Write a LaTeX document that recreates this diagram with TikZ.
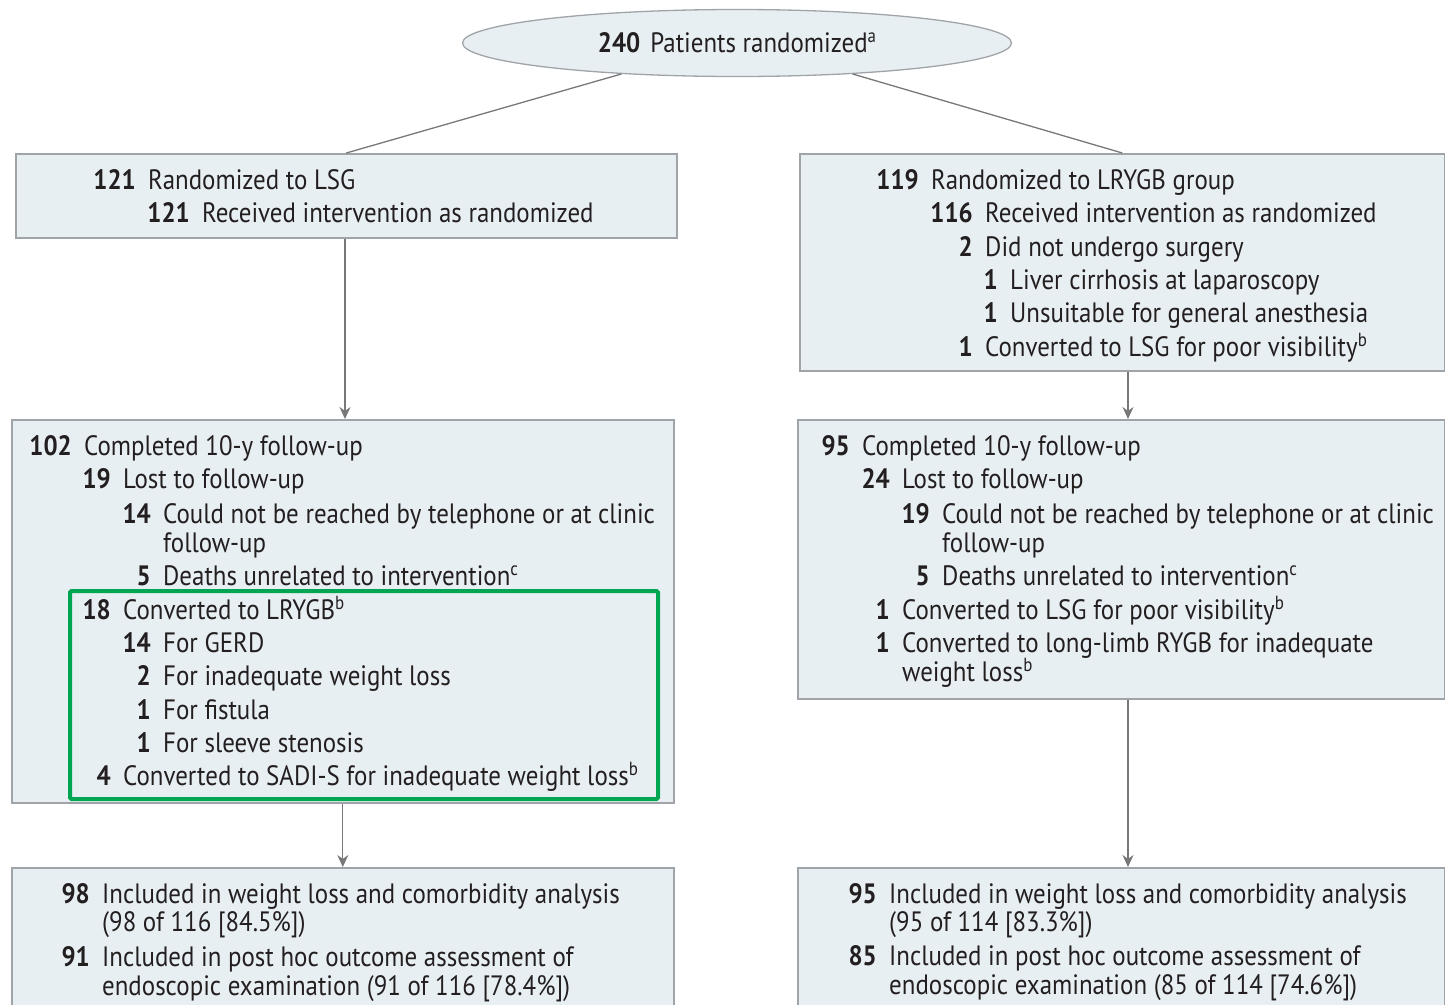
\documentclass[tikz,border=0pt]{standalone}
\usepackage{fontspec}
\setmainfont{PT Sans}[FakeStretch=0.89]
\usetikzlibrary{arrows.meta,shapes.geometric}
\definecolor{boxfill}{RGB}{232,239,243}
\definecolor{boxline}{RGB}{160,164,168}
\definecolor{txtc}{RGB}{35,31,32}
\definecolor{grn}{RGB}{0,166,81}
\definecolor{arrc}{RGB}{120,120,120}
\tikzset{
  box/.style={draw=boxline, line width=1.6pt, fill=boxfill, anchor=north west, inner sep=0pt},
  txtst/.style={inner sep=0pt, text=txtc, text height=19pt, text depth=6pt, font=\fontsize{28}{32}\selectfont},
  numst/.style={txtst, font=\fontsize{28}{32}\selectfont\bfseries},
  conn/.style={draw=arrc, line width=1.3pt},
  arr/.style={conn, -{Stealth[length=12pt,width=11pt]}},
}
\newcommand\sps[1]{\raisebox{0.36em}{\fontsize{19}{19}\selectfont #1}}
\newcommand\ent[5]{%
  \node[numst, anchor=mid east] (#1n) at (#2-12,#3+8) {#4};
  \node[txtst, anchor=mid west] (#1t) at (#2,#3+8) {#5};
}
\newcommand\cont[4]{%
  \node[txtst, anchor=mid west] (#1) at (#2,#3+8) {#4};
}
\begin{document}
\begin{tikzpicture}[x=1pt,y=-1pt]
\useasboundingbox (0,0) rectangle (1445,1004);
% boxes
\node[ellipse, draw=boxline, line width=1.3pt, fill=boxfill, minimum width=549pt, minimum height=67pt, inner sep=0pt, text=txtc, font=\fontsize{28}{32}\selectfont] (E) at (737,43)
  {\textbf{240}\hspace{10pt}Patients randomized\sps{a}};
\node[box, minimum width=661pt, minimum height=84pt] (A) at (15,153) {};
\node[box, minimum width=645pt, minimum height=217pt] (B) at (799,153) {};
\node[box, minimum width=662pt, minimum height=383pt] (C) at (11,419) {};
\node[box, minimum width=647pt, minimum height=279pt] (D) at (797,419) {};
\node[box, minimum width=662pt, minimum height=160pt] (Eb) at (11,867) {};
\node[box, minimum width=647pt, minimum height=160pt] (F) at (797,867) {};
\node[draw=grn, line width=4pt, rounded corners=1.5pt, anchor=north west, minimum width=588pt, minimum height=208pt, inner sep=0pt] (G) at (68,589) {};
% connectors
\coordinate (lx) at (345,0);
\coordinate (rx) at (1128,0);
\draw[conn] (E.195) -- (A.north);
\draw[conn] (E.345) -- (B.north);
\draw[arr] (A.south -| lx) -- (C.north -| lx);
\draw[arr] (B.south -| rx) -- (D.north -| rx);
\draw[arr] (C.south) -- (Eb.north);
\draw[arr] (D.south -| rx) -- (F.north -| rx);
% box A
\ent{a1}{148}{179}{121}{Randomized to LSG}
\ent{a2}{202}{212}{121}{Received intervention as randomized}
% box B
\ent{b1}{931}{179}{119}{Randomized to LRYGB group}
\ent{b2}{985}{212}{116}{Received intervention as randomized}
\ent{b3}{985}{246}{2}{Did not undergo surgery}
\ent{b4}{1010}{279}{1}{Liver cirrhosis at laparoscopy}
\ent{b5}{1010}{312}{1}{Unsuitable for general anesthesia}
\ent{b6}{985}{346}{1}{Converted to LSG for poor visibility\sps{b}}
% box C
\ent{c1}{84}{445}{102}{Completed 10-y follow-up}
\ent{c2}{123}{478}{19}{Lost to follow-up}
\ent{c3}{163}{513}{14}{Could not be reached by telephone or at clinic}
\cont{c3b}{163}{542}{follow-up}
\ent{c4}{163}{575}{5}{Deaths unrelated to intervention\sps{c}}
\ent{c5}{123}{609}{18}{Converted to LRYGB\sps{b}}
\ent{c6}{163}{642}{14}{For GERD}
\ent{c7}{163}{675}{2}{For inadequate weight loss}
\ent{c8}{163}{709}{1}{For fistula}
\ent{c9}{163}{742}{1}{For sleeve stenosis}
\ent{c10}{123}{775}{4}{Converted to SADI-S for inadequate weight loss\sps{b}}
% box D
\ent{d1}{862}{445}{95}{Completed 10-y follow-up}
\ent{d2}{902}{478}{24}{Lost to follow-up}
\ent{d3}{942}{513}{19}{Could not be reached by telephone or at clinic}
\cont{d3b}{942}{542}{follow-up}
\ent{d4}{942}{575}{5}{Deaths unrelated to intervention\sps{c}}
\ent{d5}{902}{609}{1}{Converted to LSG for poor visibility\sps{b}}
\ent{d6}{902}{642}{1}{Converted to long-limb RYGB for inadequate}
\cont{d6b}{902}{671}{weight loss\sps{b}}
% box E
\ent{e1}{102}{893}{98}{Included in weight loss and comorbidity analysis}
\cont{e1b}{102}{921}{(98 of 116 [84.5\%])}
\ent{e2}{102}{956}{91}{Included in post hoc outcome assessment of}
\cont{e2b}{102}{985}{endoscopic examination (91 of 116 [78.4\%])}
% box F
\ent{f1}{889}{893}{95}{Included in weight loss and comorbidity analysis}
\cont{f1b}{889}{921}{(95 of 114 [83.3\%])}
\ent{f2}{889}{955}{85}{Included in post hoc outcome assessment of}
\cont{f2b}{889}{984}{endoscopic examination (85 of 114 [74.6\%])}
\end{tikzpicture}
\end{document}
